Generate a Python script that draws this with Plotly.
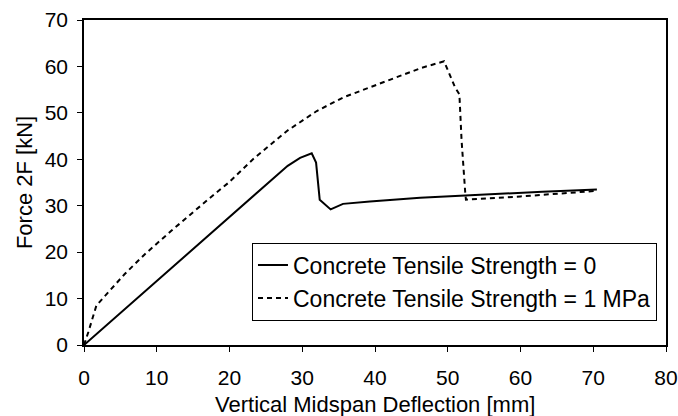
import plotly.graph_objects as go

# Series: Concrete Tensile Strength = 0 (solid)
x_fct0 = [0, 5, 10, 15, 19.6, 24, 28, 29.7, 31.3, 31.9, 32.4, 33.9, 35.6, 39.3, 46.2, 52.4, 57.2, 63, 70.5]
y_fct0 = [0, 6.9, 13.8, 20.7, 27.2, 33.1, 38.6, 40.3, 41.3, 39.3, 31.3, 29.2, 30.4, 30.9, 31.7, 32.2, 32.6, 33.0, 33.5]

# Series: Concrete Tensile Strength = 1 MPa (dashed)
x_fct1 = [0, 0.6, 1.7, 2.9, 5.6, 8.4, 12.0, 17.1, 19.9, 23.3, 27.9, 32.0, 35.6, 39.3, 42.9, 46.4,
          49.5, 50.3, 51.0, 51.6, 51.9, 52.4, 52.5, 60, 70.5]
y_fct1 = [0, 2.8, 8.5, 10.6, 15.3, 19.6, 24.6, 31.4, 35.0, 40.1, 46.1, 50.4, 53.3, 55.5, 57.6, 59.7,
          61.1, 58.1, 55.5, 54.0, 44.1, 32.9, 31.3, 32.0, 33.2]

names = ["Concrete Tensile Strength = 0", "Concrete Tensile Strength = 1 MPa"]
x_ticks = [0, 10, 20, 30, 40, 50, 60, 70, 80]
y_ticks = [0, 10, 20, 30, 40, 50, 60, 70]
x_title = "Vertical Midspan Deflection [mm]"
y_title = "Force 2F [kN]"

FONT = "Liberation Sans, Arial, sans-serif"

fig = go.Figure()
fig.add_trace(go.Scatter(x=x_fct0, y=y_fct0, mode="lines", name=names[0],
                         line=dict(color="black", width=2), legendgroup="a"))
fig.add_trace(go.Scatter(x=x_fct1, y=y_fct1, mode="lines", name=names[1],
                         line=dict(color="black", width=2, dash="5px,4px"), legendgroup="b"))

fig.update_layout(
    width=678, height=416,
    margin=dict(l=84, r=12, t=20, b=71),
    paper_bgcolor="white", plot_bgcolor="white",
    font=dict(family=FONT, size=21, color="black"),
    showlegend=True,
    legend=dict(
        x=0.9845, y=0.075, xanchor="right", yanchor="bottom",
        bgcolor="white", bordercolor="black", borderwidth=1,
        font=dict(family=FONT, size=23, color="black"),
        tracegroupgap=0, itemwidth=30,
    ),
    xaxis=dict(
        range=[0, 80], tickvals=x_ticks, ticks="outside", ticklen=5, tickcolor="black",
        showline=True, linecolor="black", linewidth=1.5, mirror=True,
        showgrid=False, zeroline=False, automargin=False,
        ticklabelstandoff=8,
    ),
    yaxis=dict(
        range=[0, 70], tickvals=y_ticks, ticks="outside", ticklen=5, tickcolor="black",
        showline=True, linecolor="black", linewidth=1.5, mirror=True,
        showgrid=False, zeroline=False, automargin=False,
        title=dict(text=y_title, standoff=6, font=dict(family=FONT, size=22, color="black")),
        ticklabelstandoff=5,
    ),
    annotations=[dict(
        text=x_title, xref="paper", yref="paper", x=0.5, y=-0.183,
        xanchor="center", yanchor="middle", showarrow=False,
        font=dict(family=FONT, size=22, color="black"),
    )],
)

fig.write_html("out.html")
